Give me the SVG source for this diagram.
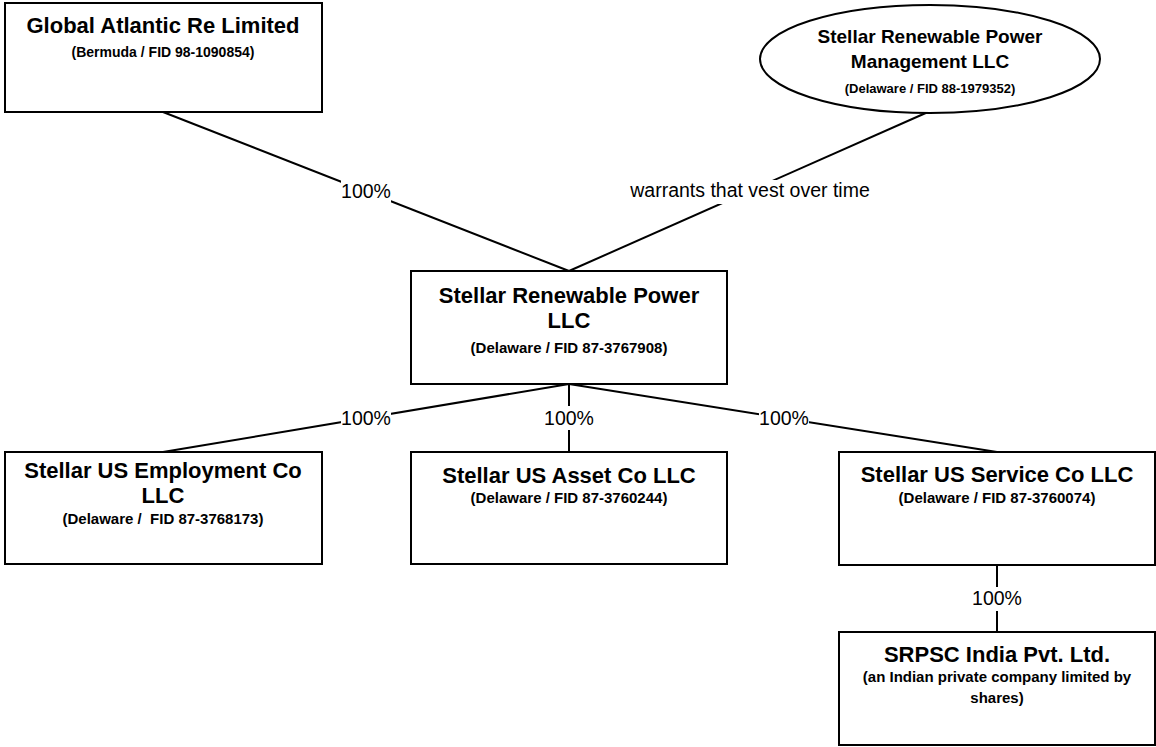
<svg xmlns="http://www.w3.org/2000/svg" width="1156" height="747" viewBox="0 0 1156 747">
<style>
.box{fill:#fff;stroke:#000;stroke-width:2}
.ln{stroke:#000;stroke-width:2;fill:none}
.t{font-family:"Liberation Sans",Arial,sans-serif;font-weight:bold;font-size:22px;text-anchor:middle;fill:#000}
.s{font-family:"Liberation Sans",Arial,sans-serif;font-weight:bold;font-size:15px;text-anchor:middle;fill:#000}
.l{font-family:"Liberation Sans",Arial,sans-serif;font-size:19.5px;text-anchor:middle;fill:#000}
.bg{fill:#fff}
</style>
<rect width="1156" height="747" fill="#fff"/>
<g id="connectors">
<line class="ln" x1="163" y1="112" x2="569" y2="271"/>
<line class="ln" x1="928" y1="112" x2="569" y2="271"/>
<line class="ln" x1="569" y1="384" x2="163" y2="452"/>
<line class="ln" x1="569" y1="384" x2="569" y2="452"/>
<line class="ln" x1="569" y1="384" x2="997" y2="452"/>
<line class="ln" x1="997" y1="565" x2="997" y2="632"/>
<rect class="bg" x="341" y="180" width="50" height="24"/>
<text class="l" x="366" y="198">100%</text>
<rect class="bg" x="626" y="180" width="248" height="24"/>
<text class="l" x="750" y="197">warrants that vest over time</text>
<rect class="bg" x="341" y="406" width="50" height="24"/>
<text class="l" x="366" y="425">100%</text>
<rect class="bg" x="544" y="406" width="50" height="24"/>
<text class="l" x="569" y="425">100%</text>
<rect class="bg" x="759" y="406" width="50" height="24"/>
<text class="l" x="784" y="425">100%</text>
<rect class="bg" x="972" y="587" width="50" height="24"/>
<text class="l" x="997" y="605">100%</text>
</g>
<g id="global-atlantic">
<rect class="box" x="5" y="3" width="317" height="109"/>
<text class="t" x="163" y="33">Global Atlantic Re Limited</text>
<text class="s" x="163" y="57" style="font-size:14px">(Bermuda / FID 98-1090854)</text>
</g>
<g id="srp-management">
<ellipse class="box" cx="930" cy="59" rx="170" ry="54"/>
<text class="t" x="930" y="43" style="font-size:19px">Stellar Renewable Power</text>
<text class="t" x="930" y="68" style="font-size:19px">Management LLC</text>
<text class="s" x="930" y="93" style="font-size:13px">(Delaware / FID 88-1979352)</text>
</g>
<g id="srp-llc">
<rect class="box" x="411" y="271" width="316" height="113"/>
<text class="t" x="569" y="303">Stellar Renewable Power</text>
<text class="t" x="569" y="328">LLC</text>
<text class="s" x="569" y="353">(Delaware / FID 87-3767908)</text>
</g>
<g id="employment">
<rect class="box" x="5" y="452" width="317" height="112"/>
<text class="t" x="163" y="478">Stellar US Employment Co</text>
<text class="t" x="163" y="503">LLC</text>
<text class="s" x="163" y="524" xml:space="preserve">(Delaware /  FID 87-3768173)</text>
</g>
<g id="asset">
<rect class="box" x="411" y="452" width="316" height="112"/>
<text class="t" x="569" y="483">Stellar US Asset Co LLC</text>
<text class="s" x="569" y="503">(Delaware / FID 87-3760244)</text>
</g>
<g id="service">
<rect class="box" x="839" y="452" width="316" height="113"/>
<text class="t" x="997" y="482">Stellar US Service Co LLC</text>
<text class="s" x="997" y="503">(Delaware / FID 87-3760074)</text>
</g>
<g id="srpsc-india">
<rect class="box" x="839" y="632" width="316" height="113"/>
<text class="t" x="997" y="662">SRPSC India Pvt. Ltd.</text>
<text class="s" x="997" y="682">(an Indian private company limited by</text>
<text class="s" x="997" y="703">shares)</text>
</g>
</svg>
